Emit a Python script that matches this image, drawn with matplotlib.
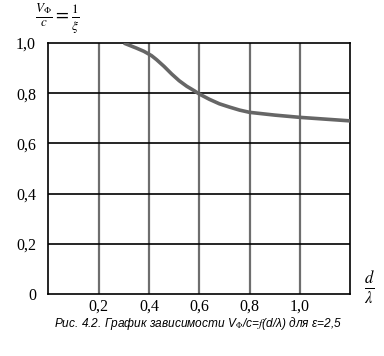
import matplotlib
matplotlib.use("Agg")
import matplotlib.pyplot as plt

plt.rcParams['mathtext.fontset'] = 'stix'

# точки кривой
d_lambda = [0.30, 0.35, 0.38, 0.41, 0.43, 0.46, 0.49, 0.52, 0.55, 0.58, 0.60, 0.64, 0.68,
            0.72, 0.76, 0.80, 0.90, 1.00, 1.10, 1.20]
v_c = [1.000, 0.980, 0.967, 0.950, 0.934, 0.907, 0.877, 0.850, 0.828, 0.810, 0.797, 0.776, 0.758,
       0.745, 0.733, 0.724, 0.713, 0.704, 0.697, 0.690]

xticks = [0.2, 0.4, 0.6, 0.8, 1.0]
xticklabels = ['0,2', '0,4', '0,6', '0,8', '1,0']
yticks = [0, 0.2, 0.4, 0.6, 0.8, 1.0]
yticklabels = ['0', '0,2', '0,4', '0,6', '0,8', '1,0']

fig = plt.figure(figsize=(3.84, 3.56), dpi=100)
ax = fig.add_axes([0.126, 0.174, 0.786, 0.705])

for x in xticks:
    ax.axvline(x, color='#6e6e6e', lw=1.6, zorder=1)
for y in yticks[1:-1]:
    ax.axhline(y, color='black', lw=1.2, zorder=1)

ax.plot(d_lambda, v_c, color='#666666', lw=2.6, solid_capstyle='butt', solid_joinstyle='round', zorder=3)

ax.set_xlim(0, 1.2)
ax.set_ylim(0, 1.0)
ax.set_xticks(xticks)
ax.set_xticklabels(xticklabels, family='Liberation Serif', fontsize=11.5)
ax.set_yticks(yticks)
ax.set_yticklabels(yticklabels, family='Liberation Serif', fontsize=11.5)
ax.tick_params(axis='x', length=0, pad=3)
ax.tick_params(axis='y', length=0, pad=9)
for s in ax.spines.values():
    s.set_linewidth(1.2)
    s.set_color('black')

fig.text(0.15, 0.946, r'$\frac{V_\Phi}{c}=\frac{1}{\xi}$', fontsize=13.5, ha='center', va='center')
fig.text(0.962, 0.19, r'$\frac{d}{\lambda}$', fontsize=17, ha='center', va='center')
fig.text(0.515, 0.09, r'Рис. 4.2. График зависимости V$_{\Phi}$/c=$f$(d/λ) для ε=2,5',
         family='Liberation Sans', style='italic', fontsize=8.6, ha='center', va='center')

fig.savefig('out.png', dpi=100)
